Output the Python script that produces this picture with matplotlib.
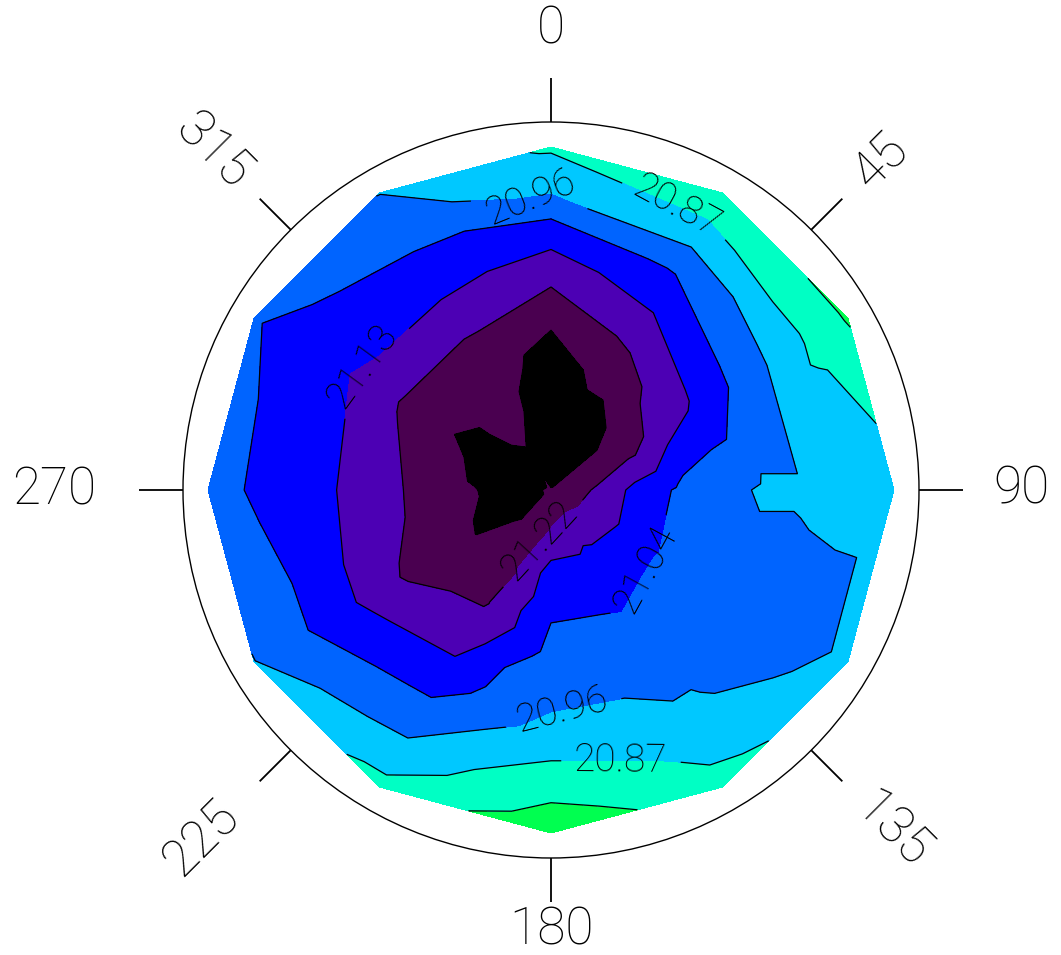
import numpy as np
import matplotlib
matplotlib.use("Agg")
import matplotlib.pyplot as plt
import matplotlib.tri as mtri
from matplotlib.patches import Circle

# ---------------- data ----------------
# azimuth of each data column (degrees, clockwise from north)
azimuth_deg = [0, 30, 60, 90, 120, 150, 180, 210, 240, 270, 300, 330]
# relative radius of each data ring (1 = outermost ring)
ring_radius = [0.125, 0.25, 0.375, 0.5, 0.625, 0.75, 0.875, 1.0]
center_value = 21.30
ring_1 = [21.35, 21.34, 21.28, 21.211, 21.186, 21.163, 21.20, 21.29, 21.315, 21.315, 21.325, 21.308]
ring_2 = [21.35, 21.33, 21.26, 21.102, 21.109, 21.097, 21.091, 21.251, 21.305, 21.298, 21.322, 21.275]
ring_3 = [21.34, 21.266, 21.173, 21.029, 21.035, 21.053, 21.047, 21.225, 21.256, 21.240, 21.29, 21.255]
ring_4 = [21.289, 21.195, 21.111, 20.982, 21.02, 21.016, 21.007, 21.167, 21.222, 21.188, 21.225, 21.222]
ring_5 = [21.191, 21.111, 21.024, 20.945, 21.005, 20.983, 20.969, 21.090, 21.147, 21.130, 21.148, 21.139]
ring_6 = [21.091, 21.027, 20.942, 20.945, 21.00, 20.945, 20.900, 21.010, 21.077, 21.091, 21.104, 21.068]
ring_7 = [20.942, 20.898, 20.855, 20.935, 20.99, 20.894, 20.805, 20.932, 21.014, 21.051, 21.071, 21.008]
ring_8 = [20.858, 20.80, 20.775, 20.93, 20.93, 20.835, 20.73, 20.84, 20.955, 21.00, 21.035, 20.955]
rings = [ring_1, ring_2, ring_3, ring_4, ring_5, ring_6, ring_7, ring_8]

contour_levels = [20.783, 20.870, 20.957, 21.043, 21.130, 21.217, 21.303]
fill_colors = ["#00FF50", "#00FFC4", "#00C8FF", "#0064FF", "#0000FF",
               "#4C00B4", "#4A0050", "#000000"]
labelled_levels = [20.957, 20.870, 21.130, 21.217, 21.043]

tick_angles = [0, 45, 90, 135, 180, 225, 270, 315]
tick_labels = ["0", "45", "90", "135", "180", "225", "270", "315"]

# ---------------- layout ----------------
W, H = 1061, 955
CX, CY = 551, 490          # circle centre in pixels (from top-left)
R_CIRCLE = 368
R_DATA = 343
TICK_LEN = 44

fig = plt.figure(figsize=(W / 100, H / 100), dpi=100)
ax = fig.add_axes([0, 0, 1, 1])
ax.set_xlim(-CX, W - CX)
ax.set_ylim(-(H - CY), CY)
ax.axis("off")

FONT = dict(family=["Roboto", "DejaVu Sans"], weight="light")

az = np.deg2rad(azimuth_deg)
xs, ys, zs = [0.0], [0.0], [center_value]
for r, ring in zip(ring_radius, rings):
    for a, v in zip(az, ring):
        xs.append(R_DATA * r * np.sin(a))
        ys.append(R_DATA * r * np.cos(a))
        zs.append(v)
xs, ys, zs = np.array(xs), np.array(ys), np.array(zs)
tri = mtri.Triangulation(xs, ys)

fill_levels = [min(zs.min(), contour_levels[0]) - 0.05] + contour_levels + [zs.max() + 0.05]
ax.tricontourf(tri, zs, levels=fill_levels, colors=fill_colors)

label_pos = {
    20.957: [(-21, 297), (11, -217)],
    20.870: [(129, 290), (70, -258)],
    21.130: [(-189, 125)],
    21.217: [(-6, -55)],
    21.043: [(99, -82)],
}
for lev in contour_levels:
    cs = ax.tricontour(tri, zs, levels=[lev], colors="black", linewidths=0.9)
    if lev in label_pos:
        ax.clabel(cs, manual=label_pos[lev], fmt="%.2f", fontsize=28,
                  inline=True, inline_spacing=4, colors="black")
        for t in cs.labelTexts:
            t.set_fontfamily(FONT["family"])
            t.set_fontweight(FONT["weight"])
            t.set_color("black")
        if lev == 20.957:
            cs.labelTexts[0].set_rotation(22)

ax.add_patch(Circle((0, 0), R_CIRCLE, fill=False, edgecolor="black", linewidth=1.0))

label_radius = [460, 466, 471, 481, 440, 494, 497, 479]
label_rot = [0, 45, 0, -45, 0, 45, 0, -45]
for ang, lab, lr, rot in zip(tick_angles, tick_labels, label_radius, label_rot):
    a = np.deg2rad(ang)
    sx, sy = np.sin(a), np.cos(a)
    ax.plot([R_CIRCLE * sx, (R_CIRCLE + TICK_LEN) * sx],
            [R_CIRCLE * sy, (R_CIRCLE + TICK_LEN) * sy],
            color="black", linewidth=1.3, solid_capstyle="butt")
    ax.text(lr * sx, lr * sy, lab, ha="center", va="center", rotation=rot,
            rotation_mode="anchor", fontsize=37, color="black", **FONT)

fig.savefig("out.png", dpi=100)
